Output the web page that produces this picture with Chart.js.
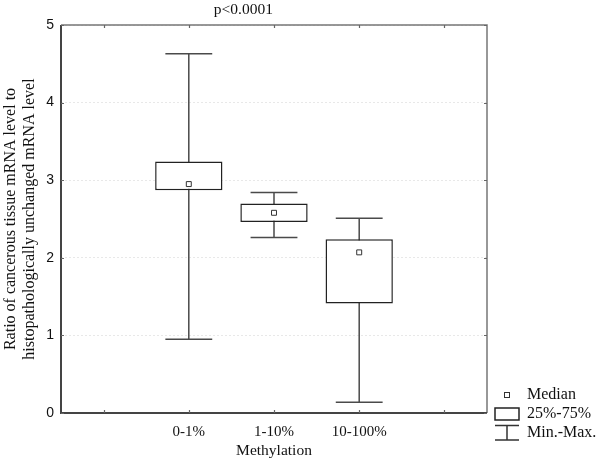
<!DOCTYPE html>
<html><head><meta charset="utf-8">
<script src="https://cdn.jsdelivr.net/npm/chart.js@4/dist/chart.umd.min.js"></script>
<style>html,body{margin:0;padding:0;background:#fff}#wrap{width:600px;height:461px}</style>
</head><body><div id="wrap"><canvas id="c" width="600" height="461"></canvas></div>
<script>
const categories = ['', '0-1%', '1-10%', '10-100%', ''];
const minValues = [null, 0.95, 2.26, 0.14, null];
const q1Values = [null, 2.87, 2.46, 1.41, null];
const medianValues = [null, 2.95, 2.58, 2.07, null];
const q3Values = [null, 3.24, 2.70, 2.24, null];
const maxValues = [null, 4.63, 2.84, 2.51, null];
const yTicks = [0, 1, 2, 3, 4, 5];
const titleText = 'p<0.0001';
const yTitle = ['Ratio of cancerous tissue mRNA level to', 'histopathologically unchanged mRNA level'];
const xTitle = 'Methylation';
const legendItems = ['Median', '25%-75%', 'Min.-Max.'];

const SERIF = '"Liberation Serif", "DejaVu Serif", serif';
const SANS = '"Liberation Sans", Arial, sans-serif';

const whiskerPlugin = {
  id: 'whiskers',
  beforeDatasetsDraw(chart) {
    const {ctx, scales: {x, y}} = chart;
    const half = x.getPixelForValue(1) - x.getPixelForValue(0);
    const capHalf = half * 0.275;
    ctx.save();
    ctx.strokeStyle = '#4a4a4a';
    ctx.lineWidth = 1.5;
    for (let i = 0; i < categories.length; i++) {
      if (minValues[i] == null) continue;
      const px = x.getPixelForValue(i);
      const yMin = y.getPixelForValue(minValues[i]);
      const yMax = y.getPixelForValue(maxValues[i]);
      ctx.beginPath();
      ctx.moveTo(px, yMin); ctx.lineTo(px, yMax);
      ctx.moveTo(px - capHalf, yMin); ctx.lineTo(px + capHalf, yMin);
      ctx.moveTo(px - capHalf, yMax); ctx.lineTo(px + capHalf, yMax);
      ctx.stroke();
    }
    ctx.restore();
  },
  afterDraw(chart) {
    const {ctx, chartArea: a, scales: {x, y}} = chart;
    ctx.save();
    // frame
    ctx.strokeStyle = '#777';
    ctx.lineWidth = 1.5;
    ctx.beginPath();
    ctx.moveTo(a.left, a.top); ctx.lineTo(a.right, a.top); ctx.lineTo(a.right, a.bottom);
    ctx.stroke();
    ctx.strokeStyle = '#444';
    ctx.lineWidth = 2;
    ctx.beginPath();
    ctx.moveTo(a.left, a.top); ctx.lineTo(a.left, a.bottom); ctx.lineTo(a.right, a.bottom);
    ctx.stroke();
    // inward ticks
    ctx.strokeStyle = '#666';
    ctx.lineWidth = 1.2;
    ctx.beginPath();
    for (let i = 0; i < categories.length; i++) {
      const px = Math.round(x.getPixelForValue(i)) + 0.5;
      ctx.moveTo(px, a.top); ctx.lineTo(px, a.top + 3);
      ctx.moveTo(px, a.bottom); ctx.lineTo(px, a.bottom - 3);
    }
    yTicks.forEach(v => {
      const py = Math.round(y.getPixelForValue(v)) + 0.5;
      ctx.moveTo(a.right, py); ctx.lineTo(a.right - 3, py);
      ctx.moveTo(a.left, py); ctx.lineTo(a.left + 3, py);
    });
    ctx.stroke();
    // title
    ctx.fillStyle = '#111';
    ctx.font = '15.5px ' + SERIF;
    ctx.textAlign = 'center';
    ctx.textBaseline = 'middle';
    ctx.fillText(titleText, a.left + (a.right - a.left) * 0.428, 10);
    // legend
    const lx = a.right + 20, tx = a.right + 40;
    ctx.font = '16px ' + SERIF;
    ctx.textAlign = 'left';
    ctx.fillStyle = '#111';
    ctx.strokeStyle = '#333'; ctx.lineWidth = 1;
    ctx.fillStyle = '#fff';
    ctx.fillRect(lx - 2.5, 392.5, 5, 5);
    ctx.strokeRect(lx - 2.5, 392.5, 5, 5);
    ctx.fillStyle = '#111';
    ctx.fillText(legendItems[0], tx, 395);
    ctx.strokeStyle = '#222'; ctx.lineWidth = 1.5;
    ctx.strokeRect(lx - 12, 408, 24, 12);
    ctx.fillText(legendItems[1], tx, 414);
    ctx.strokeStyle = '#333';
    ctx.beginPath();
    ctx.moveTo(lx - 12, 425.5); ctx.lineTo(lx + 12, 425.5);
    ctx.moveTo(lx, 425.5); ctx.lineTo(lx, 440);
    ctx.moveTo(lx - 12, 440); ctx.lineTo(lx + 12, 440);
    ctx.stroke();
    ctx.fillText(legendItems[2], tx, 433);
    ctx.restore();
  }
};

new Chart(document.getElementById('c'), {
  data: {
    labels: categories,
    datasets: [
      {
        type: 'line',
        label: 'Median',
        data: medianValues,
        showLine: false,
        pointStyle: 'rect',
        pointRadius: 3.5,
        pointBackgroundColor: '#fff',
        pointBorderColor: '#333',
        pointBorderWidth: 1,
        order: 0
      },
      {
        type: 'bar',
        label: '25%-75%',
        data: q1Values.map((v, i) => v == null ? null : [v, q3Values[i]]),
        backgroundColor: '#fff',
        borderColor: '#222',
        borderWidth: 1.5,
        borderSkipped: false,
        categoryPercentage: 1,
        barPercentage: 0.79,
        order: 1
      }
    ]
  },
  options: {
    responsive: false,
    animation: false,
    devicePixelRatio: 1,
    layout: {padding: {left: 0, right: 113, top: 25, bottom: 0}},
    plugins: {legend: {display: false}, tooltip: {enabled: false}, title: {display: false}},
    scales: {
      x: {
        type: 'category',
        offset: true,
        grid: {display: false, drawTicks: false},
        border: {display: false},
        ticks: {padding: 10, color: '#111', font: {family: SERIF, size: 15}, maxRotation: 0, autoSkip: false},
        title: {display: true, text: xTitle, color: '#111', font: {family: SERIF, size: 15.5}, padding: {top: 0, bottom: 1}},
        afterFit(s) { s.height = 48; }
      },
      y: {
        min: 0, max: 5,
        afterBuildTicks(s) { s.ticks = yTicks.map(v => ({value: v})); },
        grid: {color: '#e8e8e8', lineWidth: 1, drawTicks: false},
        border: {display: false, dash: [2, 2]},
        ticks: {padding: 7, color: '#111', font: {family: SANS, size: 14}},
        title: {display: true, text: yTitle, color: '#111', font: {family: SERIF, size: 16, lineHeight: 1.2}, padding: {top: 1, bottom: 0}},
        afterFit(s) { s.width = 61; }
      }
    }
  },
  plugins: [whiskerPlugin]
});
</script>
</body></html>
